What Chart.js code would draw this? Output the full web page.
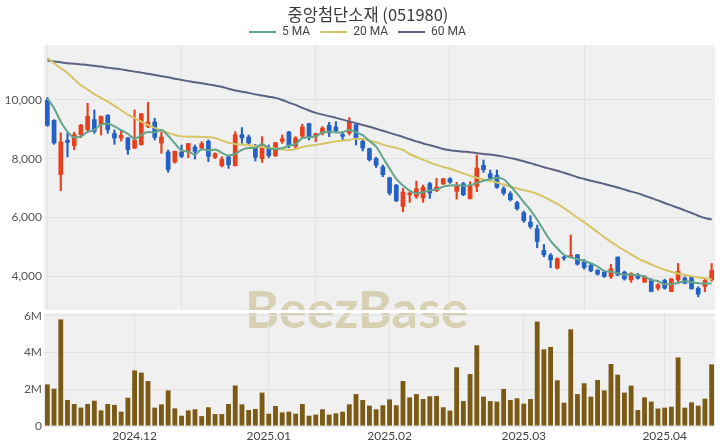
<!DOCTYPE html>
<html>
<head>
<meta charset="utf-8">
<script src="https://cdn.jsdelivr.net/npm/chart.js@4.4.1/dist/chart.umd.min.js"></script>
<style>
  html, body { margin: 0; padding: 0; background: #fff; }
  #wrap { position: relative; width: 720px; height: 448px; overflow: hidden; }
  #title {
    position: absolute; left: 8px; top: 3px; width: 720px; text-align: center;
    font: 400 16.5px "Noto Sans CJK KR", sans-serif; line-height: 22px; color: #3a3a3a;
  }
  #priceBox { position: absolute; left: 0; top: 0; width: 720px; height: 312px; }
  #volBox { position: absolute; left: 0; top: 312px; width: 720px; height: 136px; }
</style>
</head>
<body>
<div id="wrap">
  <div id="priceBox"><canvas id="priceChart"></canvas></div>
  <div id="volBox"><canvas id="volChart"></canvas></div>
  <div id="title">중앙첨단소재 (051980)</div>
</div>
<script>
// trading days (category axis)
const dates = [
  '2024-11-13','2024-11-14','2024-11-15','2024-11-18','2024-11-19','2024-11-20','2024-11-21','2024-11-22','2024-11-25','2024-11-26',
  '2024-11-27','2024-11-28','2024-11-29','2024-12-02','2024-12-03','2024-12-04','2024-12-05','2024-12-06','2024-12-09','2024-12-10',
  '2024-12-11','2024-12-12','2024-12-13','2024-12-16','2024-12-17','2024-12-18','2024-12-19','2024-12-20','2024-12-23','2024-12-24',
  '2024-12-26','2024-12-27','2024-12-30','2025-01-02','2025-01-03','2025-01-06','2025-01-07','2025-01-08','2025-01-09','2025-01-10',
  '2025-01-13','2025-01-14','2025-01-15','2025-01-16','2025-01-17','2025-01-20','2025-01-21','2025-01-22','2025-01-23','2025-01-24',
  '2025-01-31','2025-02-03','2025-02-04','2025-02-05','2025-02-06','2025-02-07','2025-02-10','2025-02-11','2025-02-12','2025-02-13',
  '2025-02-14','2025-02-17','2025-02-18','2025-02-19','2025-02-20','2025-02-21','2025-02-24','2025-02-25','2025-02-26','2025-02-27',
  '2025-02-28','2025-03-03','2025-03-04','2025-03-05','2025-03-06','2025-03-07','2025-03-10','2025-03-11','2025-03-12','2025-03-13',
  '2025-03-14','2025-03-17','2025-03-18','2025-03-19','2025-03-20','2025-03-21','2025-03-24','2025-03-25','2025-03-26','2025-03-27',
  '2025-03-28','2025-03-31','2025-04-01','2025-04-02','2025-04-03','2025-04-04','2025-04-07','2025-04-08','2025-04-09','2025-04-10'
];

const opens = [
  10000, 9318, 7450, 8640, 8430, 8807, 8977, 9341, 9148, 9489,
  8864, 8693, 8716, 8352, 8466, 9091, 9261, 8523, 8239, 7875,
  8239, 8239, 8409, 8352, 8602, 8035, 7750, 8069, 7750, 8830,
  8750, 8409, 7989, 8352, 8091, 8580, 8920, 8409, 8750, 9205,
  8750, 8864, 9148, 9091, 8830, 8864, 9171, 8602, 8352, 8012,
  7729, 7365, 7104, 6365, 6763, 6706, 6649, 7161, 6899, 7127,
  7331, 6877, 7161, 6627, 7047, 7785, 7501, 7445, 6990, 6820,
  6513, 6172, 5854, 5627, 4889, 4718, 4264, 4662, 4662, 4741,
  4491, 4378, 4207, 4150, 3980, 4661, 4150, 3866, 4059, 3787,
  3866, 3582, 3866, 3469, 3866, 3946, 3980, 3605, 3639, 3866
];
const highs = [
  10080, 9330, 8880, 8880, 8900, 9170, 9886, 9659, 9455, 9500,
  8977, 8943, 8730, 9659, 9545, 9920, 9375, 8920, 8296, 8262,
  8466, 8523, 8466, 8580, 8640, 8200, 8069, 8103, 8920, 9057,
  8807, 8489, 8750, 8466, 8557, 8807, 8930, 8750, 9171, 9210,
  8864, 9091, 9239, 9261, 8920, 9398, 9180, 8693, 8360, 8050,
  7785, 7370, 7127, 6990, 6877, 7240, 7104, 7195, 7331, 7331,
  7353, 7195, 7195, 7217, 8126, 7956, 7615, 7615, 7047, 6877,
  6550, 6218, 6059, 5741, 5082, 4775, 4627, 4684, 5400, 4741,
  4570, 4434, 4230, 4173, 4400, 4661, 4173, 4116, 4093, 4014,
  3923, 3753, 3900, 3923, 4434, 3980, 3990, 3640, 3923, 4434
];
const lows = [
  9100, 8490, 6910, 8060, 8300, 8716, 8920, 8864, 8807, 8864,
  8489, 8602, 8148, 8340, 8460, 9057, 8636, 8182, 7535, 7850,
  8035, 8035, 7989, 8300, 7898, 8000, 7720, 7671, 7750, 8523,
  8489, 7921, 7875, 8035, 8069, 8523, 8375, 8330, 8693, 8636,
  8580, 8807, 8750, 8898, 8636, 8807, 8466, 8262, 7921, 7700,
  7387, 6763, 6536, 6195, 6513, 6649, 6513, 6649, 6877, 7127,
  7161, 6627, 6740, 6627, 6877, 7535, 7308, 6990, 6763, 6559,
  6250, 5832, 5627, 4968, 4662, 4287, 4241, 4548, 4662, 4378,
  4241, 4150, 4037, 3960, 3923, 4014, 3866, 3787, 3900, 3787,
  3469, 3525, 3560, 3469, 3810, 3740, 3560, 3298, 3469, 3830
];
const closes = [
  9125, 8523, 8580, 8540, 8830, 9148, 9455, 8920, 9455, 8977,
  8693, 8807, 8296, 8637, 9545, 9261, 8716, 8750, 7614, 8262,
  8069, 8523, 8239, 8523, 8069, 8182, 7989, 7785, 8830, 8693,
  8523, 8035, 8409, 8091, 8557, 8693, 8443, 8716, 9091, 8716,
  8864, 9057, 8864, 8943, 8750, 9261, 8693, 8352, 7955, 7762,
  7445, 6820, 6559, 6877, 6843, 6990, 7047, 6820, 7047, 7331,
  7195, 7081, 6763, 7104, 7695, 7615, 7331, 7013, 6820, 6593,
  6286, 5877, 5684, 5173, 4718, 4548, 4605, 4605, 4718, 4400,
  4287, 4173, 4059, 3980, 4264, 4037, 3900, 4093, 3923, 3980,
  3469, 3718, 3582, 3923, 4173, 3753, 3560, 3378, 3866, 4207
];

const ma5 = [
  10050, 9720, 9260, 8920, 8720, 8760, 8910, 8980, 9160, 9190,
  9100, 8970, 8850, 8680, 8800, 8910, 8890, 8980, 8780, 8520,
  8280, 8240, 8140, 8320, 8290, 8310, 8200, 8110, 8170, 8300,
  8360, 8370, 8500, 8350, 8320, 8360, 8440, 8500, 8700, 8730,
  8770, 8890, 8920, 8890, 8900, 8980, 8900, 8800, 8600, 8410,
  8040, 7670, 7310, 7090, 6910, 6820, 6860, 6920, 6950, 7050,
  7090, 7100, 7080, 7100, 7170, 7250, 7300, 7350, 7300, 7070,
  6810, 6520, 6250, 5920, 5550, 5200, 4950, 4730, 4640, 4580,
  4520, 4440, 4330, 4180, 4150, 4100, 4050, 4060, 4040, 3990,
  3870, 3840, 3730, 3730, 3770, 3830, 3800, 3760, 3750, 3750
];
const ma20 = [
  11430, 11250, 11080, 10920, 10700, 10500, 10350, 10200, 10070, 9940,
  9800, 9650, 9500, 9380, 9260, 9150, 9050, 8960, 8880, 8810,
  8760, 8750, 8745, 8745, 8730, 8700, 8620, 8540, 8500, 8480,
  8460, 8430, 8400, 8370, 8350, 8320, 8300, 8330, 8400, 8440,
  8470, 8510, 8550, 8590, 8620, 8640, 8680, 8670, 8620, 8560,
  8480, 8420, 8370, 8300, 8160, 8060, 7960, 7870, 7790, 7720,
  7660, 7580, 7500, 7420, 7350, 7290, 7240, 7190, 7120, 7050,
  6990, 6930, 6880, 6800, 6700, 6580, 6460, 6320, 6160, 5990,
  5840, 5670, 5500, 5330, 5170, 5020, 4880, 4740, 4610, 4500,
  4400, 4300, 4220, 4150, 4090, 4040, 4000, 3960, 3930, 3900
];
const ma60 = [
  11340, 11310, 11280, 11250, 11230, 11210, 11190, 11160, 11135, 11100,
  11070, 11040, 11000, 10964, 10930, 10890, 10850, 10810, 10770, 10720,
  10680, 10640, 10600, 10570, 10530, 10490, 10450, 10380, 10320, 10280,
  10240, 10190, 10150, 10110, 10070, 10000, 9910, 9830, 9730, 9640,
  9560, 9500, 9450, 9390, 9330, 9270, 9210, 9150, 9090, 9020,
  8950, 8880, 8810, 8740, 8660, 8590, 8520, 8460, 8400, 8330,
  8290, 8260, 8240, 8220, 8190, 8160, 8140, 8110, 8070, 8020,
  7970, 7910, 7850, 7780, 7710, 7650, 7590, 7520, 7450, 7370,
  7310, 7250, 7200, 7140, 7080, 7020, 6950, 6880, 6820, 6740,
  6660, 6580, 6490, 6410, 6330, 6240, 6150, 6060, 5980, 5930
];

// volume in millions of shares
const volumes = [
  2.27, 2.03, 5.81, 1.42, 1.20, 1.00, 1.20, 1.38, 0.85, 1.20,
  1.15, 0.78, 1.54, 3.03, 2.91, 2.45, 1.00, 1.18, 1.94, 0.96,
  0.56, 0.85, 0.91, 0.54, 1.02, 0.65, 0.65, 1.20, 2.21, 1.18,
  0.87, 0.93, 1.82, 0.67, 1.09, 0.74, 0.78, 0.67, 1.20, 0.56,
  0.62, 0.91, 0.62, 0.69, 0.78, 1.18, 1.74, 1.42, 1.11, 0.91,
  1.13, 1.45, 1.13, 2.45, 1.56, 1.74, 1.47, 1.62, 1.64, 1.02,
  0.84, 3.20, 1.36, 2.83, 4.40, 1.60, 1.36, 1.33, 2.02, 1.42,
  1.51, 1.22, 1.47, 5.69, 4.18, 4.31, 2.49, 1.27, 5.27, 1.74,
  2.33, 1.60, 2.51, 1.94, 3.38, 2.80, 1.82, 2.20, 0.87, 1.56,
  1.33, 0.95, 1.00, 1.05, 3.74, 1.00, 1.29, 1.11, 1.49, 3.36
];

const priceTicks = [4000, 6000, 8000, 10000];
const volumeTicks = [0, 2, 4, 6];

const UP = '#e8401c';
const DOWN = '#2461c7';
const GRID = '#e2e2e2';
const TICK_FONT = { family: 'Lato, "Noto Sans", sans-serif', size: 12 };

// first trading day of each month gets a label / grid line in the volume panel
const monthStart = dates.map((d, i) => i > 0 && d.slice(0, 7) !== dates[i - 1].slice(0, 7));

const candleColor = (ctx) => closes[ctx.dataIndex] >= opens[ctx.dataIndex] ? UP : DOWN;

// grey plot panel plus the watermark, clipped to the panel
const panelBg = {
  id: 'panelBg',
  beforeDraw(chart, args, opts) {
    const { ctx, chartArea: a } = chart;
    ctx.save();
    ctx.fillStyle = '#f0f0f0';
    ctx.fillRect(a.left, a.top, a.right - a.left, a.bottom - a.top);
    ctx.beginPath();
    ctx.rect(a.left, a.top, a.right - a.left, a.bottom - a.top);
    ctx.clip();
    ctx.font = 'bold 52px Lato, "Noto Sans", sans-serif';
    ctx.fillStyle = '#d7d0b3';
    ctx.textBaseline = 'alphabetic';
    ctx.fillText('BeezBase', 245, 328 - opts.offsetY);
    ctx.restore();
  }
};

function fixedAxis(scale) {
  scale.width = 44;
  scale.paddingTop = 0;
  scale.paddingBottom = 0;
}

Chart.defaults.animation = false;

new Chart(document.getElementById('priceChart'), {
  data: {
    labels: dates,
    datasets: [
      {
        type: 'line', label: '5 MA', data: ma5, order: 0,
        borderColor: '#62a58b', borderWidth: 2, pointRadius: 0, cubicInterpolationMode: 'monotone'
      },
      {
        type: 'line', label: '20 MA', data: ma20, order: 0,
        borderColor: '#d6c566', borderWidth: 2, pointRadius: 0, cubicInterpolationMode: 'monotone'
      },
      {
        type: 'line', label: '60 MA', data: ma60, order: 0,
        borderColor: '#5b6283', borderWidth: 2, pointRadius: 0, cubicInterpolationMode: 'monotone'
      },
      {
        type: 'bar', label: 'body', order: 1, grouped: false,
        data: opens.map((o, i) => [o, closes[i]]),
        backgroundColor: candleColor, barPercentage: 0.7, categoryPercentage: 1
      },
      {
        type: 'bar', label: 'wick', order: 2, grouped: false,
        data: lows.map((l, i) => [l, highs[i]]),
        backgroundColor: candleColor, barThickness: 1.5
      }
    ]
  },
  options: {
    responsive: true,
    maintainAspectRatio: false,
    devicePixelRatio: 1,
    layout: { padding: { top: 16, right: 5, bottom: 2, left: 0 } },
    plugins: {
      panelBg: { offsetY: 0 },
      tooltip: { enabled: false },
      legend: {
        maxHeight: 29,
        labels: {
          filter: (item) => item.datasetIndex < 3,
          usePointStyle: true,
          pointStyle: 'line',
          pointStyleWidth: 27,
          padding: 10,
          color: '#444',
          font: { family: 'Roboto, sans-serif', size: 12 }
        }
      }
    },
    scales: {
      x: {
        type: 'category',
        offset: true,
        ticks: { display: false },
        grid: {
          offset: false,
          drawTicks: false,
          color: (ctx) => ctx.index % 20 === 0 ? GRID : 'transparent'
        },
        border: { display: false }
      },
      y: {
        min: 2850,
        max: 11870,
        afterBuildTicks: (axis) => { axis.ticks = priceTicks.map(v => ({ value: v })); },
        afterFit: fixedAxis,
        ticks: {
          padding: 2,
          color: '#555',
          font: TICK_FONT,
          callback: (v) => v.toLocaleString('en-US')
        },
        grid: { color: GRID, drawTicks: false },
        border: { display: false }
      }
    }
  },
  plugins: [panelBg]
});

new Chart(document.getElementById('volChart'), {
  type: 'bar',
  data: {
    labels: dates,
    datasets: [{
      label: 'Volume',
      data: volumes,
      backgroundColor: '#7a5a14',
      barPercentage: 0.72,
      categoryPercentage: 1
    }]
  },
  options: {
    responsive: true,
    maintainAspectRatio: false,
    devicePixelRatio: 1,
    layout: { padding: { top: 1, right: 5, bottom: 0, left: 0 } },
    plugins: {
      panelBg: { offsetY: 312 },
      tooltip: { enabled: false },
      legend: { display: false }
    },
    scales: {
      x: {
        offset: true,
        afterFit: (scale) => { scale.height = 22; },
        ticks: {
          autoSkip: false,
          maxRotation: 0,
          padding: 3,
          color: '#444',
          font: TICK_FONT,
          callback: (v, i) => monthStart[i] ? dates[i].slice(0, 7).replace('-', '.') : ''
        },
        grid: {
          offset: false,
          drawTicks: false,
          color: (ctx) => monthStart[ctx.index] ? GRID : 'transparent'
        },
        border: { display: false }
      },
      y: {
        min: 0,
        max: 6.16,
        afterBuildTicks: (axis) => { axis.ticks = volumeTicks.map(v => ({ value: v })); },
        afterFit: fixedAxis,
        ticks: {
          padding: 2,
          color: '#555',
          font: TICK_FONT,
          callback: (v) => v === 0 ? '0' : v + 'M'
        },
        grid: { color: GRID, drawTicks: false },
        border: { display: false }
      }
    }
  },
  plugins: [panelBg]
});
</script>
</body>
</html>
